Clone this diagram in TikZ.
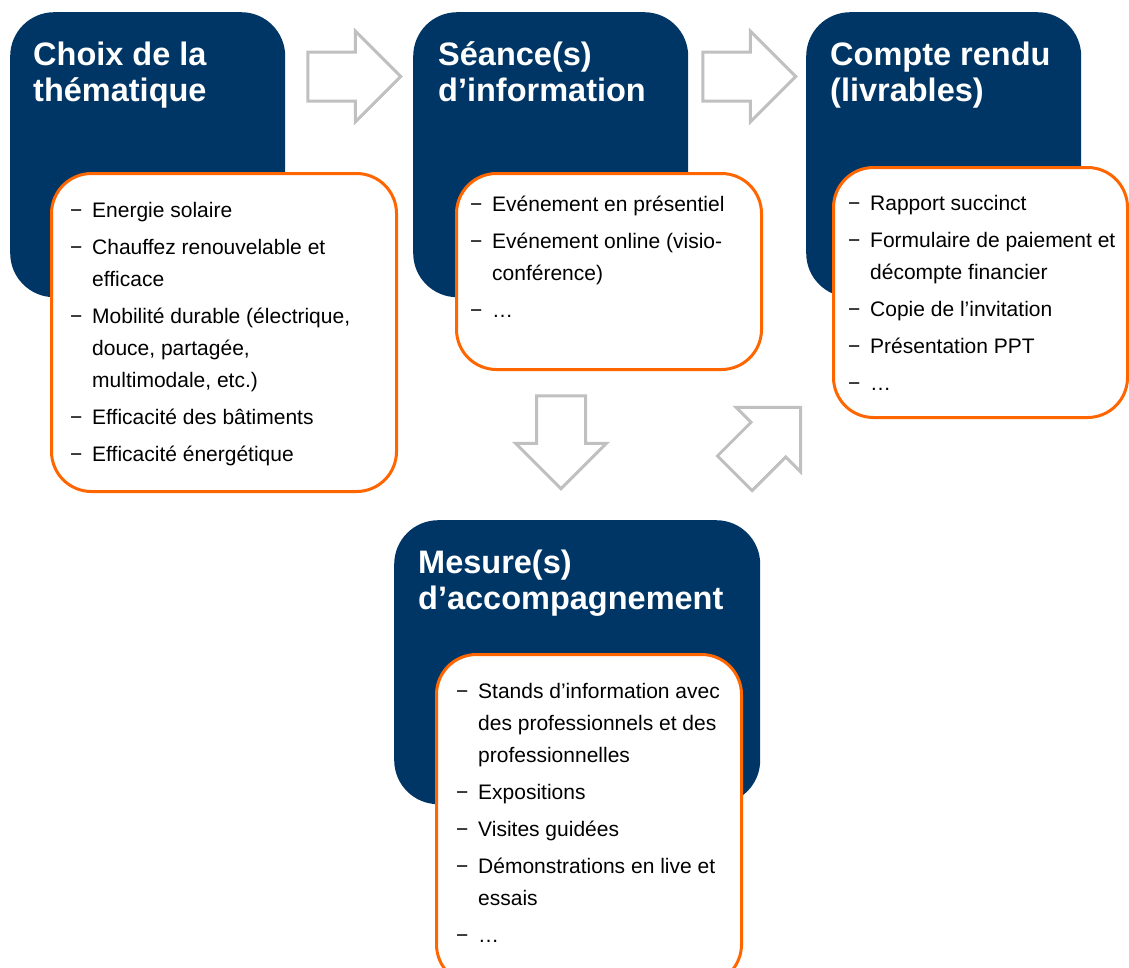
\documentclass[tikz,border=0pt]{standalone}
\usepackage{fontspec}
\setmainfont{Liberation Sans}
\usetikzlibrary{shapes.arrows}

\definecolor{navy}{RGB}{0,54,101}
\definecolor{flame}{RGB}{255,102,0}
\definecolor{silver}{RGB}{192,192,192}

\tikzset{
  phase/.style={fill=navy, rounded corners=44pt, anchor=north west, inner sep=0pt},
  details/.style={draw=flame, fill=white, line width=3pt, rounded corners=40pt, anchor=north west, inner sep=0pt},
  heading/.style={anchor=base west, inner sep=0pt, text=white, font=\fontsize{32.5}{36}\selectfont\bfseries},
  bullets/.style={anchor=base west, inner sep=0pt, font=\fontsize{21}{32}\selectfont},
  flow/.style={single arrow, draw=silver, line width=3pt, fill=white, inner xsep=0pt, inner ysep=23pt, single arrow head extend=21pt, minimum height=93pt}
}
\newcommand{\headlines}[1]{\begin{tabular}[t]{@{}l@{}}#1\end{tabular}}
\newcommand{\itemlines}[1]{\begin{tabular}[t]{@{}p{22pt}@{}l@{}}#1\end{tabular}}

\begin{document}
\begin{tikzpicture}[x=1pt, y=-1pt]
  \useasboundingbox (0,0) rectangle (1129,967);

  % Define nodes
  \node[phase, minimum width=275pt, minimum height=285pt] (choix) at (10,12) {};
  \node[phase, minimum width=275pt, minimum height=285pt] (seance) at (413,12) {};
  \node[phase, minimum width=275pt, minimum height=285pt] (compte) at (806,12) {};
  \node[phase, minimum width=366pt, minimum height=284pt] (mesure) at (394,520) {};

  \node[details, minimum width=345pt, minimum height=318pt] (choixlst) at (50,172) {};
  \node[details, minimum width=305pt, minimum height=196pt] (seancelst) at (455,172) {};
  \node[details, minimum width=294pt, minimum height=250pt] (comptelst) at (832,166) {};
  \node[details, minimum width=305pt, minimum height=330pt] (mesurelst) at (435,653) {};

  \node[heading] (choixttl) at (33,65) {\headlines{Choix de la\\thématique}};
  \node[heading] (seancettl) at (438,65) {\headlines{Séance(s)\\d’information}};
  \node[heading] (comptettl) at (830,65) {\headlines{Compte rendu\\(livrables)}};
  \node[heading] (mesurettl) at (418,573) {\headlines{Mesure(s)\\d’accompagnement}};

  \node[bullets] (choixtxt) at (70,217) {\itemlines{%
    − & Energie solaire\\[5pt]
    − & Chauffez renouvelable et\\
      & efficace\\[5pt]
    − & Mobilité durable (électrique,\\
      & douce, partagée,\\
      & multimodale, etc.)\\[5pt]
    − & Efficacité des bâtiments\\[5pt]
    − & Efficacité énergétique}};
  \node[bullets] (seancetxt) at (470,211) {\itemlines{%
    − & Evénement en présentiel\\[5pt]
    − & Evénement online (visio-\\
      & conférence)\\[5pt]
    − & …}};
  \node[bullets] (comptetxt) at (848,210) {\itemlines{%
    − & Rapport succinct\\[5pt]
    − & Formulaire de paiement et\\
      & décompte financier\\[5pt]
    − & Copie de l’invitation\\[5pt]
    − & Présentation PPT\\[5pt]
    − & …}};
  \node[bullets] (mesuretxt) at (456,698) {\itemlines{%
    − & Stands d’information avec\\
      & des professionnels et des\\
      & professionnelles\\[5pt]
    − & Expositions\\[5pt]
    − & Visites guidées\\[5pt]
    − & Démonstrations en live et\\
      & essais\\[5pt]
    − & …}};

  % Block arrows between the steps
  \node[flow] (toseance) at (342,76.5) {};
  \node[flow] (tocompte) at (737,76.5) {};
  \node[flow, rotate=-90] (tomesure) at (561,430) {};
  \node[flow, rotate=45] (backcompte) at (759,449) {};

\end{tikzpicture}
\end{document}
